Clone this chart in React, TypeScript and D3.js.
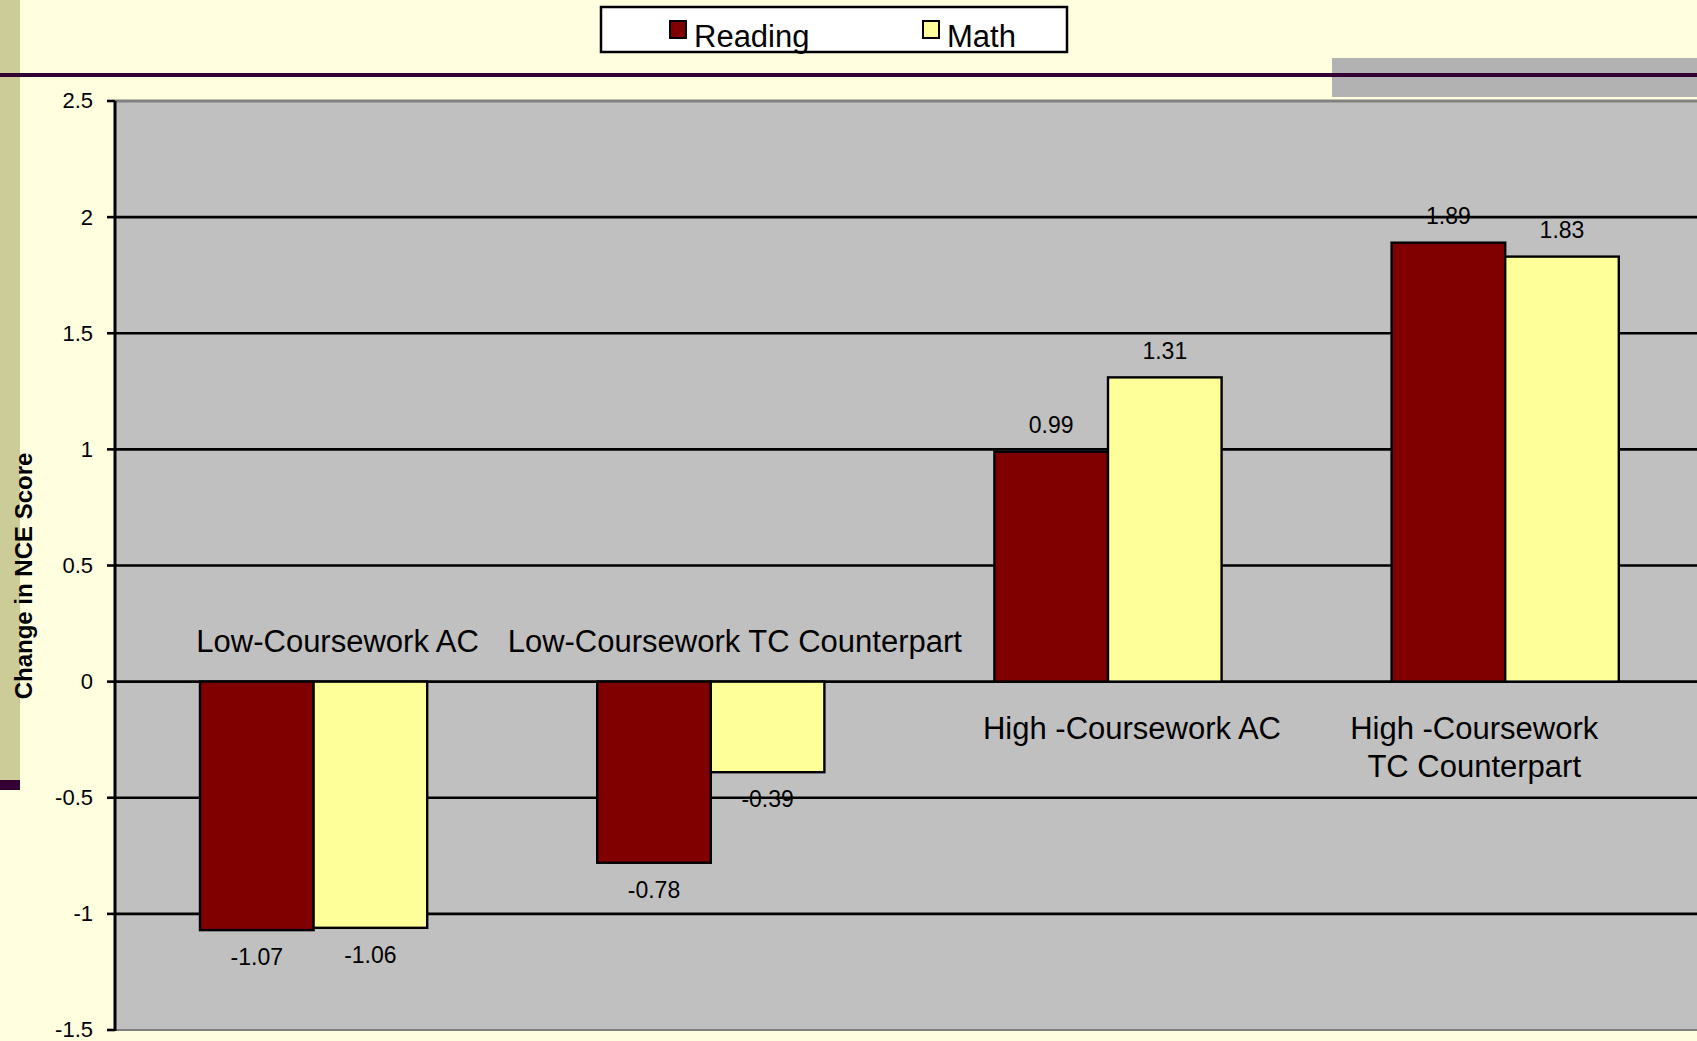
import * as d3 from "d3";

const categories = [
  "Low-Coursework AC",
  "Low-Coursework TC Counterpart",
  "High -Coursework AC",
  "High -Coursework TC Counterpart",
];
// how Excel wrapped the category labels
const categoryLines = [
  ["Low-Coursework AC"],
  ["Low-Coursework TC Counterpart"],
  ["High -Coursework AC"],
  ["High -Coursework", "TC Counterpart"],
];
const seriesNames = ["Reading", "Math"];
const readingValues = [-1.07, -0.78, 0.99, 1.89];
const mathValues = [-1.06, -0.39, 1.31, 1.83];
const yTicks = [-1.5, -1, -0.5, 0, 0.5, 1, 1.5, 2, 2.5];

const seriesColors = ["#800000", "#FFFF99"];
const FONT = "'Liberation Sans', Arial, sans-serif";

const W = 1697;
const H = 1041;

export default function App() {
  const plotLeft = 115;
  const plotTop = 101;
  const plotBottom = 1030;
  const step = 397.2;

  const x0 = d3
    .scaleBand<string>()
    .domain(categories)
    .range([plotLeft, plotLeft + step * categories.length])
    .paddingInner(0.428)
    .paddingOuter(0.214);

  const x1 = d3
    .scaleBand<string>()
    .domain(seriesNames)
    .range([0, x0.bandwidth()]);

  const y = d3.scaleLinear().domain([-1.5, 2.5]).range([plotBottom, plotTop]);

  const values = [readingValues, mathValues];

  return (
    <svg
      width={W}
      height={H}
      style={{ position: "absolute", left: 0, top: 0, display: "block" }}
      fontFamily={FONT}
    >
      <rect x={0} y={0} width={W} height={H} fill="#FFFFE0" />

      {/* slide decorations */}
      <rect x={0} y={0} width={20} height={780} fill="#CCCC99" />
      <rect x={0} y={780} width={20} height={10} fill="#330033" />
      <rect x={1332} y={58} width={W - 1332} height={39} fill="#B2B2B2" />
      <rect x={0} y={73} width={W} height={4} fill="#330033" />

      {/* legend */}
      <rect x={601} y={7} width={466} height={45} fill="#fff" stroke="#000" strokeWidth={2.5} />
      {seriesNames.map((s, i) => {
        const lx = i === 0 ? 670 : 923;
        return (
          <g key={s}>
            <rect x={lx} y={21} width={16} height={17} fill={seriesColors[i]} stroke="#000" strokeWidth={2} />
            <text x={lx + 24} y={47} fontSize={31} fill="#000">
              {s}
            </text>
          </g>
        );
      })}

      {/* plot area */}
      <rect x={plotLeft} y={plotTop} width={W - plotLeft} height={plotBottom - plotTop} fill="#C0C0C0" />
      <line x1={plotLeft} x2={W} y1={plotTop} y2={plotTop} stroke="#808080" strokeWidth={3} />
      <line x1={plotLeft} x2={W} y1={plotBottom} y2={plotBottom} stroke="#808080" strokeWidth={2} />

      {yTicks
        .filter((t) => t !== -1.5 && t !== 2.5)
        .map((t) => (
          <line key={t} x1={plotLeft} x2={W} y1={y(t)} y2={y(t)} stroke="#000" strokeWidth={2.6} />
        ))}

      {/* y axis */}
      <line x1={plotLeft} x2={plotLeft} y1={plotTop} y2={plotBottom + 1} stroke="#000" strokeWidth={3} />
      {yTicks.map((t) => (
        <g key={t}>
          <line x1={plotLeft - 8} x2={plotLeft} y1={y(t)} y2={y(t)} stroke="#000" strokeWidth={2.6} />
          <text x={93} y={y(t)} dy="0.34em" textAnchor="end" fontSize={22} fill="#000">
            {String(t)}
          </text>
        </g>
      ))}
      <text
        transform={`translate(32, 576) rotate(-90)`}
        textAnchor="middle"
        fontSize={24}
        fontWeight="bold"
        fill="#000"
      >
        Change in NCE Score
      </text>

      {/* bars */}
      {categories.map((c, ci) => (
        <g key={c}>
          {seriesNames.map((s, si) => {
            const v = values[si][ci];
            const bx = (x0(c) ?? 0) + (x1(s) ?? 0);
            const top = Math.min(y(v), y(0));
            const h = Math.abs(y(v) - y(0));
            return (
              <g key={s}>
                <rect x={bx} y={top} width={x1.bandwidth()} height={h} fill={seriesColors[si]} stroke="#000" strokeWidth={2.4} />
                <text
                  x={bx + x1.bandwidth() / 2}
                  y={v >= 0 ? y(v) - 27 : y(v) + 27}
                  dy="0.36em"
                  textAnchor="middle"
                  fontSize={23}
                  fill="#000"
                >
                  {v.toFixed(2)}
                </text>
              </g>
            );
          })}
        </g>
      ))}

      {/* category labels, above the axis for negative groups, below for positive */}
      {categories.map((c, ci) => {
        const lines = categoryLines[ci];
        const negative = readingValues[ci] < 0 && mathValues[ci] < 0;
        const cx = (x0(c) ?? 0) + x0.bandwidth() / 2 + (lines.length > 1 ? -31 : 24);
        const firstY = negative ? y(0) - 41 : y(0) + 46;
        return (
          <text key={c} textAnchor="middle" fontSize={31} fill="#000">
            {lines.map((l, li) => (
              <tspan key={li} x={cx} y={firstY + li * 38} dy="0.36em">
                {l}
              </tspan>
            ))}
          </text>
        );
      })}
    </svg>
  );
}
